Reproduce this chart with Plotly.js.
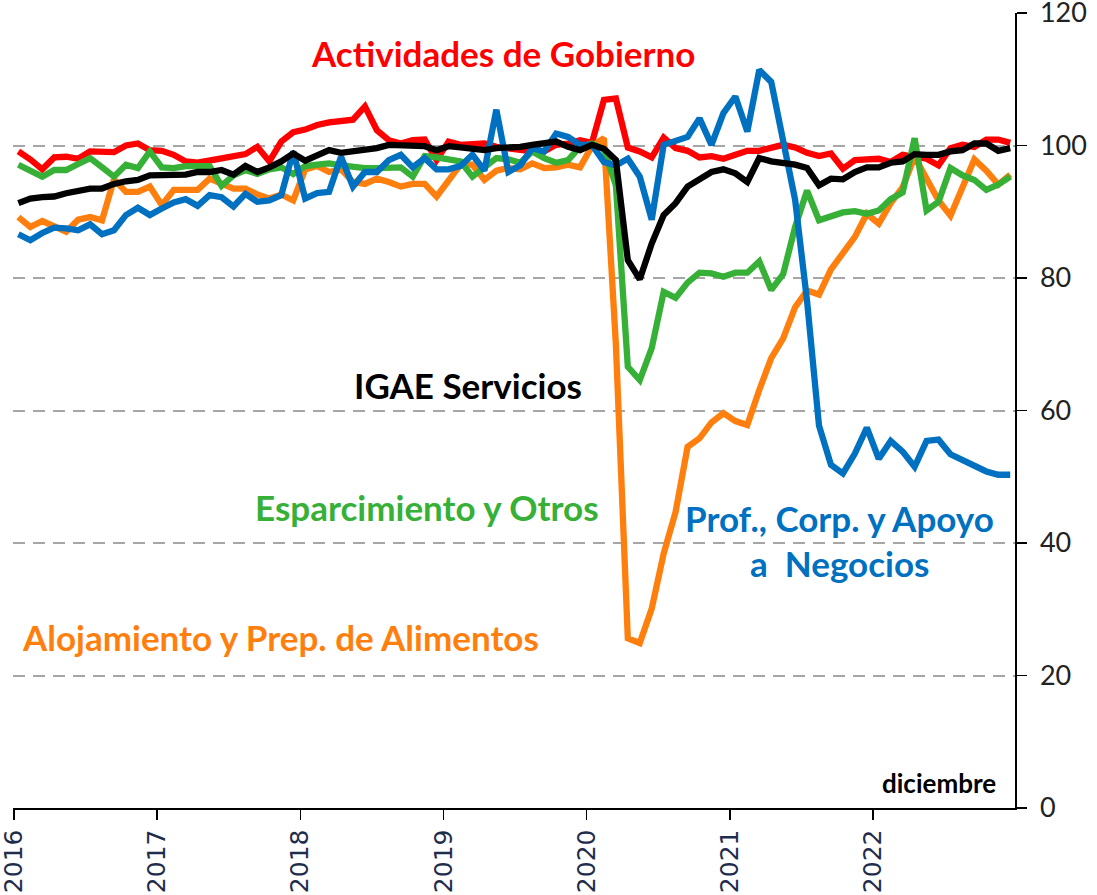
<!DOCTYPE html>
<html><head><meta charset="utf-8">
<script src="https://cdn.plot.ly/plotly-3.0.1.min.js"></script>
<style>html,body{margin:0;padding:0;background:#fff}#chart{width:1097px;height:895px}</style>
</head><body><div id="chart"></div>
<script>
const yearLabels = ['2016','2017','2018','2019','2020','2021','2022'];
const yTicks = [0,20,40,60,80,100,120];

const gobierno = [99.1,97.9,96.4,98.2,98.3,98.0,99.1,99.1,99.0,100.0,
100.3,99.3,99.2,98.6,97.6,97.4,97.7,98.0,98.4,98.7,
99.8,97.6,100.6,102.0,102.4,103.1,103.5,103.7,103.9,105.9,
102.3,100.8,100.3,100.8,100.9,97.8,100.6,100.1,100.1,100.3,
99.8,99.5,99.2,99.1,99.1,100.1,100.3,100.8,100.4,106.9,
107.1,99.7,99.1,98.2,101.2,99.6,99.2,98.2,98.4,98.0,
98.6,99.2,99.2,99.7,100.1,99.7,98.9,98.4,98.8,96.5,
97.8,97.9,98.0,97.5,98.6,98.3,98.0,97.0,99.6,100.1,
99.8,100.9,100.9,100.4];

const igae = [91.3,92.0,92.2,92.3,92.8,93.2,93.5,93.5,94.2,94.6,
94.8,95.5,95.6,95.5,95.6,96.0,96.0,96.3,95.6,96.9,
96.0,96.7,97.6,98.8,97.7,98.5,99.3,98.9,99.1,99.3,
99.6,100.1,100.0,100.0,99.9,99.3,99.9,99.7,99.6,99.3,
99.6,99.6,99.8,100.1,100.4,100.6,99.8,99.3,100.1,99.5,
97.8,82.7,79.8,85.2,89.5,91.3,93.8,95.0,96.0,96.4,
95.8,94.5,98.1,97.6,97.4,97.1,96.6,94.0,95.0,94.9,
96.0,96.7,96.7,97.4,97.6,98.7,98.6,98.6,99.1,99.3,
100.3,100.3,99.2,99.6];

const profesionales = [86.6,85.7,86.8,87.6,87.5,87.2,88.1,86.6,87.2,89.5,
90.6,89.5,90.5,91.4,91.9,90.9,92.5,92.2,90.8,92.7,
91.5,91.7,92.5,99.1,92.0,92.8,93.0,98.3,93.8,96.0,
96.0,97.8,98.6,96.7,98.1,96.4,96.4,96.9,98.6,96.2,
105.4,96.0,97.0,99.6,99.1,101.8,101.3,100.1,100.1,97.5,
97.0,98.0,95.3,88.8,100.1,100.6,101.3,104.1,100.1,104.9,
107.4,102.1,111.4,109.6,100.3,91.8,76.5,57.7,51.8,50.5,
53.5,57.4,52.7,55.4,53.8,51.5,55.4,55.6,53.4,52.6,
51.6,50.8,50.3,50.3];

const esparcimiento = [97.1,96.2,95.3,96.3,96.3,97.2,98.1,96.7,95.3,97.1,
96.6,99.1,96.7,96.6,96.9,96.9,96.9,93.9,95.5,96.3,
95.7,96.4,96.7,95.7,96.9,97.1,97.3,97.0,96.7,96.6,
96.6,96.6,96.7,95.3,98.4,98.2,97.8,97.6,95.3,96.6,
98.1,97.9,97.4,99.1,98.1,97.4,97.8,99.8,100.3,99.4,
94.0,66.6,64.6,69.4,77.9,77.0,79.3,80.8,80.7,80.2,
80.8,80.8,82.5,78.2,80.6,87.7,93.2,88.7,89.2,89.9,
90.1,89.7,90.2,91.9,92.9,101.1,90.2,91.5,96.6,95.5,
94.8,93.3,94.1,95.3];

const alojamiento = [89.2,87.7,88.6,87.8,87.0,88.8,89.2,88.7,94.9,93.0,
93.0,93.8,91.0,93.3,93.4,93.3,95.0,94.3,93.5,93.5,
92.6,92.0,92.6,91.7,96.4,96.9,96.0,96.4,94.5,94.2,
95.0,94.5,93.8,94.2,94.2,92.3,94.8,97.1,97.1,94.8,
96.2,96.6,96.4,97.3,96.6,96.7,97.1,96.7,99.9,101.1,
70.0,25.6,24.9,30.1,38.4,44.7,54.5,55.8,58.2,59.6,
58.4,57.8,63.1,67.9,70.9,75.6,78.1,77.5,81.3,83.8,
86.2,89.7,88.2,91.3,93.7,98.3,94.8,91.7,89.4,93.9,
97.9,96.2,94.1,95.6];

const idx = igae.map((_, i) => i);
const tickPos = yearLabels.map((_, k) => k * 11.98 - 0.37);

function tr(y, color, w) {
  return {x: idx, y: y, type: 'scatter', mode: 'lines',
    line: {color: color, width: w, shape: 'linear'}, hoverinfo: 'skip'};
}
const data = [
  tr(gobierno, '#FF0000', 6.3),
  tr(alojamiento, '#FF7F0E', 6.3),
  tr(esparcimiento, '#36B036', 6.3),
  tr(profesionales, '#0070C0', 6.3),
  tr(igae, '#000000', 6.3)
];

const F = 'Lato, "Open Sans", sans-serif';
function ann(text, x, y, color, size, xanchor) {
  return {text: text, xref: 'paper', yref: 'paper', x: x, y: y,
    xanchor: xanchor || 'center', yanchor: 'middle', showarrow: false,
    font: {family: F, size: size, color: color, weight: 700}};
}

const layout = {
  width: 1097, height: 895,
  margin: {l: 13, r: 82, t: 13, b: 87},
  paper_bgcolor: '#fff', plot_bgcolor: '#fff',
  showlegend: false,
  xaxis: {
    range: [-0.45, 83.4], tickvals: tickPos, ticktext: yearLabels,
    tickangle: -90, ticks: 'outside', ticklen: 10, tickwidth: 1.5, tickcolor: '#000',
    showline: true, linecolor: '#000', linewidth: 1.5,
    showgrid: false, zeroline: false, ticklabeloverflow: 'allow',
    tickfont: {family: '"DejaVu Sans", sans-serif', size: 25, color: '#1F2D4D'}
  },
  yaxis: {
    range: [0, 120], side: 'right', tickvals: yTicks,
    ticks: 'outside', ticklen: 10, tickwidth: 1.5, tickcolor: '#000',
    showline: true, linecolor: '#000', linewidth: 1.5,
    showgrid: true, gridcolor: '#A6A6A6', gridwidth: 2, griddash: '12px,8px',
    zeroline: false, ticklabeloverflow: 'allow', ticklabelstandoff: 8,
    tickfont: {family: F, size: 27, color: '#222'}
  },
  annotations: [
    ann('Actividades de Gobierno', 0.489, 0.950, '#FF0000', 35),
    ann('IGAE Servicios', 0.454, 0.532, '#000000', 35),
    ann('Esparcimiento y Otros', 0.413, 0.379, '#36B036', 35),
    ann('Prof., Corp. y Apoyo', 0.825, 0.365, '#0070C0', 35),
    ann('a\u00a0 Negocios', 0.825, 0.308, '#0070C0', 35),
    ann('Alojamiento y Prep. de Alimentos', 0.267, 0.215, '#FF7F0E', 35),
    ann('diciembre', 0.983, 0.031, '#000000', 26, 'right')
  ]
};

Plotly.newPlot('chart', data, layout, {displayModeBar: false, staticPlot: true});
</script>
</body></html>
